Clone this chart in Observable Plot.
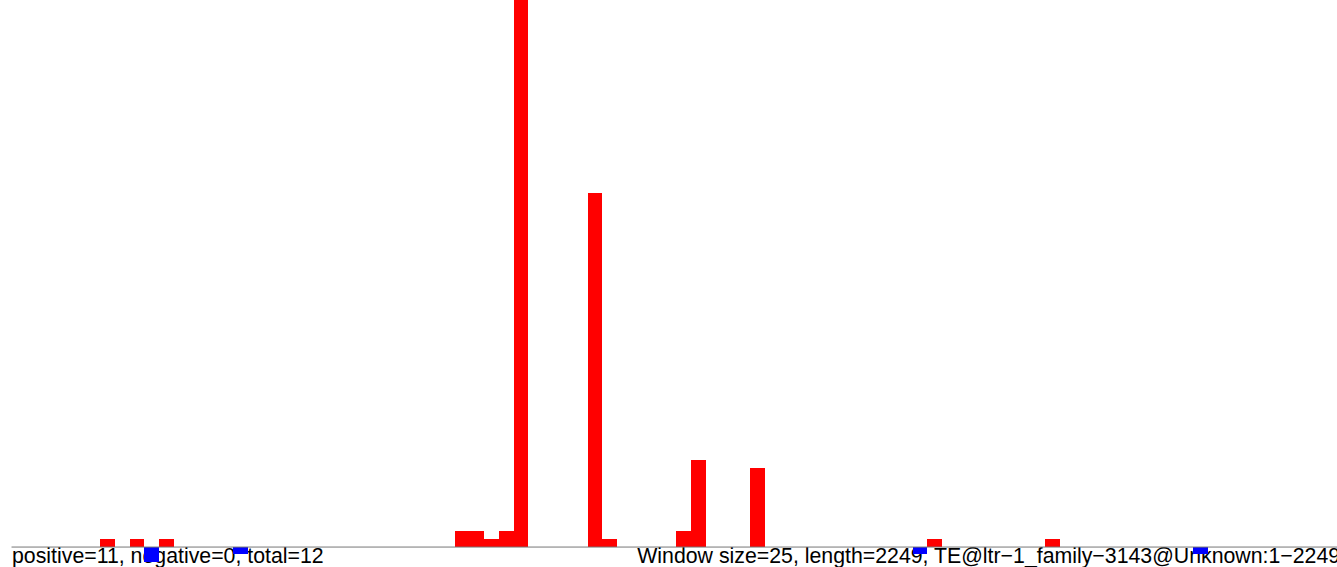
<!DOCTYPE html>
<html>
<head>
<meta charset="utf-8">
<script src="https://cdn.jsdelivr.net/npm/d3@7"></script>
<script src="https://cdn.jsdelivr.net/npm/@observablehq/plot@0.6"></script>
<style>
  html, body { margin: 0; padding: 0; background: #fff; }
  #chart svg { display: block; }
</style>
</head>
<body>
<div id="chart"></div>
<script>
// Window (bin) starts in bp and signed counts per window (positive = red, negative = blue)
const windowSize = 25;
const seqStart = 1;
const seqLength = 2249;
const binStarts = [151, 201, 226, 251, 376, 751, 776, 801, 826, 851, 976, 1001, 1126, 1151, 1251, 1526, 1551, 1751, 2001];
const counts    = [1,   1,   -2,  1,   -1,  2,   2,   1,   2,   70,  45,  1,    2,    11,   10,   -1,   1,    1,    -1];

const leftLabel = "positive=11, negative=0, total=12";
const rightLabel = "Window size=25, length=2249, TE@ltr\u22121_family\u22123143@Unknown:1\u22122249";

const bins = binStarts.map((s, i) => ({start: s, end: s + windowSize, count: counts[i]}));

const chart = Plot.plot({
  width: 1337,
  height: 567,
  marginTop: 0, marginRight: 0, marginBottom: 0, marginLeft: 0,
  x: {domain: [-18.5, 2244.5], axis: null},
  y: {domain: [-2.6, 69.5], axis: null},
  style: {fontFamily: "'Liberation Sans', Arial, Helvetica, sans-serif", background: "#fff"},
  marks: [
    Plot.text([leftLabel], {x: seqStart, y: -2, text: d => d, textAnchor: "start", lineAnchor: "bottom", fontSize: 21.3, fill: "#000"}),
    Plot.text([rightLabel], {x: seqLength, y: -2, text: d => d, textAnchor: "end", lineAnchor: "bottom", fontSize: 21.3, fill: "#000"}),
    Plot.rectY(bins, {x1: "start", x2: "end", y: "count", fill: d => d.count > 0 ? "#ff0000" : "#0000ff", clip: true, shapeRendering: "crispEdges"}),
    Plot.ruleY([0], {x1: seqStart, x2: seqLength, stroke: "#777", strokeWidth: 1})
  ]
});
document.getElementById("chart").appendChild(chart);
</script>
</body>
</html>
